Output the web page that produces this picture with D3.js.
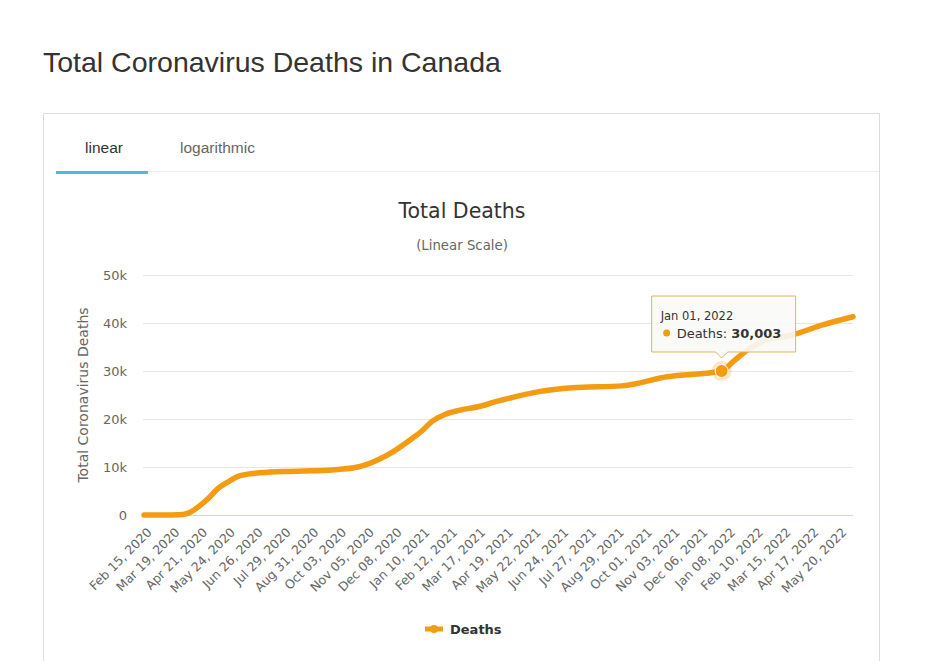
<!DOCTYPE html>
<html>
<head>
<meta charset="utf-8">
<script src="https://cdn.jsdelivr.net/npm/d3@7"></script>
<style>
body { margin: 0; background: #fff; }
svg { display: block; }
</style>
</head>
<body>
<svg id="chart"></svg>
<script>
var svg_width = 936
var svg_height = 661

// cumulative deaths
var dates = ["2020-02-15", "2020-03-19", "2020-04-01", "2020-04-10", "2020-04-21", "2020-05-01",
             "2020-05-12", "2020-05-24", "2020-06-05", "2020-06-26", "2020-07-29", "2020-08-31",
             "2020-10-03", "2020-10-26", "2020-11-05", "2020-11-19", "2020-12-05", "2020-12-29",
             "2021-01-10", "2021-01-22", "2021-02-07", "2021-02-23", "2021-03-19", "2021-04-08",
             "2021-05-29", "2021-07-08", "2021-09-05", "2021-10-28", "2022-01-01", "2022-01-15",
             "2022-02-04", "2022-02-20", "2022-03-26", "2022-05-01", "2022-06-06"];
var deaths = [0, 12, 100, 550, 1900, 3400,
              5400, 6800, 8000, 8700, 9050, 9200,
              9500, 10000, 10500, 11500, 13000, 15900,
              17500, 19500, 21000, 21800, 22600, 23600,
              25700, 26500, 26900, 28800, 30003, 32000,
              34800, 36200, 37500, 39600, 41300];

var tickLabels = ["Feb 15, 2020", "Mar 19, 2020", "Apr 21, 2020", "May 24, 2020", "Jun 26, 2020",
                  "Jul 29, 2020", "Aug 31, 2020", "Oct 03, 2020", "Nov 05, 2020", "Dec 08, 2020",
                  "Jan 10, 2021", "Feb 12, 2021", "Mar 17, 2021", "Apr 19, 2021", "May 22, 2021",
                  "Jun 24, 2021", "Jul 27, 2021", "Aug 29, 2021", "Oct 01, 2021", "Nov 03, 2021",
                  "Dec 06, 2021", "Jan 08, 2022", "Feb 10, 2022", "Mar 15, 2022", "Apr 17, 2022",
                  "May 20, 2022"];
var yTicks = [0, 10000, 20000, 30000, 40000, 50000];

var hoverDate = "2022-01-01";
var hoverValue = 30003;

var parseDay = d3.timeParse("%Y-%m-%d");
var parseLabel = d3.timeParse("%b %d, %Y");
var font = "'DejaVu Sans', Verdana, sans-serif";
var orange = "#f39c12";

var points = dates.map(function(d, i) { return { date: parseDay(d), value: deaths[i] }; });

svg = d3.select("#chart")
.attr("width", svg_width)
.attr("height", svg_height);

// page heading
svg.append("text")
.attr("x", 43).attr("y", 72)
.attr("font-family", "'Liberation Sans', Arial, sans-serif")
.attr("font-size", 28.5)
.attr("fill", "#333")
.text("Total Coronavirus Deaths in Canada");

// card
svg.append("rect")
.attr("x", 43.5).attr("y", 113.5)
.attr("width", 836).attr("height", 600)
.attr("fill", "#fff")
.attr("stroke", "#ddd");

// tabs
svg.append("line")
.attr("x1", 56).attr("x2", 879).attr("y1", 171.5).attr("y2", 171.5)
.attr("stroke", "#eee");
svg.append("rect")
.attr("x", 56).attr("y", 171).attr("width", 92).attr("height", 3)
.attr("fill", "#4bb8e0");
svg.append("text")
.attr("x", 104).attr("y", 153).attr("text-anchor", "middle")
.attr("font-family", "'Liberation Sans', Arial, sans-serif")
.attr("font-size", 15.5).attr("fill", "#333")
.text("linear");
svg.append("text")
.attr("x", 180).attr("y", 153)
.attr("font-family", "'Liberation Sans', Arial, sans-serif")
.attr("font-size", 15.5).attr("fill", "#666")
.text("logarithmic");

// chart titles
svg.append("text")
.attr("x", 462).attr("y", 218).attr("text-anchor", "middle")
.attr("font-family", font).attr("font-size", 20.5).attr("fill", "#333")
.text("Total Deaths");
svg.append("text")
.attr("x", 462).attr("y", 250).attr("text-anchor", "middle")
.attr("font-family", font).attr("font-size", 13.3).attr("fill", "#666")
.text("(Linear Scale)");

var x = d3.scaleTime()
.domain([parseDay(dates[0]), parseDay(dates[dates.length - 1])])
.range([144, 853]);

var y = d3.scaleLinear()
.domain([0, 50000])
.range([515, 275]);

// grid + y labels
var yAxis = d3.axisLeft(y)
.tickValues(yTicks)
.tickSize(-(853 - 143))
.tickFormat(function(d) { return d === 0 ? "0" : (d / 1000) + "k"; });

var gy = svg.append("g")
.attr("transform", "translate(143,0)")
.call(yAxis);
gy.select(".domain").remove();
gy.selectAll(".tick line").attr("stroke", function(d) { return d === 0 ? "#ccd6eb" : "#e6e6e6"; });
gy.selectAll(".tick text")
.attr("x", -16).attr("dy", "0.35em")
.attr("font-family", font).attr("font-size", 13).attr("fill", "#666");

svg.append("text")
.attr("transform", "translate(88,395) rotate(-90)")
.attr("text-anchor", "middle")
.attr("font-family", font).attr("font-size", 14).attr("fill", "#666")
.text("Total Coronavirus Deaths");

// x labels
var xAxis = d3.axisBottom(x)
.tickValues(tickLabels.map(function(t) { return parseLabel(t); }))
.tickSize(0)
.tickFormat(function(d, i) { return tickLabels[i]; });

var gx = svg.append("g")
.attr("transform", "translate(0,515)")
.call(xAxis);
gx.select(".domain").remove();
gx.selectAll(".tick text")
.attr("text-anchor", "end")
.attr("transform", "translate(5,15) rotate(-45)")
.attr("x", 0).attr("y", 0).attr("dy", "0.35em")
.attr("font-family", font).attr("font-size", 12.5).attr("fill", "#666");

// the line
var line = d3.line()
.x(function(d) { return x(d.date); })
.y(function(d) { return y(d.value); })
.curve(d3.curveMonotoneX);

svg.append("path")
.datum(points)
.attr("fill", "none")
.attr("stroke", orange)
.attr("stroke-width", 5.5)
.attr("stroke-linejoin", "round")
.attr("stroke-linecap", "round")
.attr("d", line);

// hovered point
var hx = x(parseDay(hoverDate));
var hy = y(hoverValue);
svg.append("circle")
.attr("cx", hx).attr("cy", hy).attr("r", 10)
.attr("fill", orange).attr("opacity", 0.25);
svg.append("circle")
.attr("cx", hx).attr("cy", hy).attr("r", 6.5)
.attr("fill", orange).attr("stroke", "#fff").attr("stroke-width", 1);

// tooltip
var tw = 144, th = 56, tx = hx - 70, ty = 296;
var tip = svg.append("g");
tip.append("path")
.attr("d", "M" + tx + "," + ty + "h" + tw + "v" + th + "H" + (hx + 6) + "l-6,6l-6,-6H" + tx + "Z")
.attr("fill", "rgba(250,250,248,0.9)")
.attr("stroke", "#e3b25f")
.attr("stroke-width", 1);
tip.append("text")
.attr("x", tx + 9).attr("y", ty + 24)
.attr("font-family", font).attr("font-size", 11.5).attr("fill", "#333")
.text("Jan 01, 2022");
tip.append("circle")
.attr("cx", tx + 15).attr("cy", ty + 37).attr("r", 3.5)
.attr("fill", orange);
var t2 = tip.append("text")
.attr("x", tx + 25).attr("y", ty + 42)
.attr("font-family", font).attr("font-size", 13).attr("fill", "#333");
t2.append("tspan").text("Deaths: ");
t2.append("tspan").attr("font-weight", "bold").text(d3.format(",")(hoverValue));

// legend
svg.append("line")
.attr("x1", 425).attr("x2", 443).attr("y1", 629).attr("y2", 629)
.attr("stroke", orange).attr("stroke-width", 5);
svg.append("circle")
.attr("cx", 434).attr("cy", 629).attr("r", 4)
.attr("fill", orange);
svg.append("text")
.attr("x", 450).attr("y", 634)
.attr("font-family", font).attr("font-size", 13).attr("font-weight", "bold").attr("fill", "#333")
.text("Deaths");
</script>
</body>
</html>
